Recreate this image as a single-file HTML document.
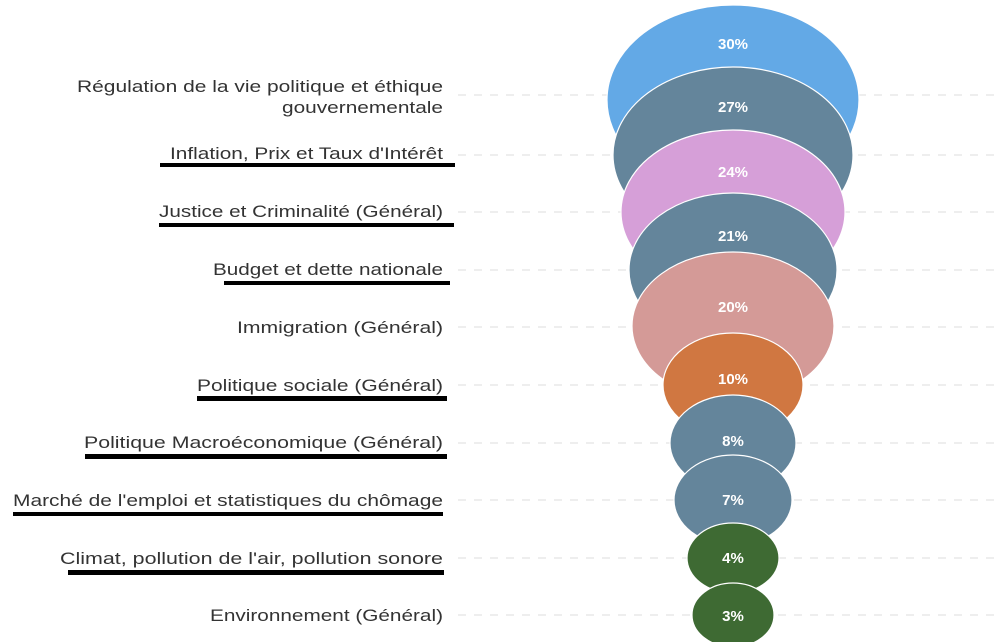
<!DOCTYPE html>
<html><head><meta charset="utf-8"><style>
html,body{margin:0;padding:0;background:#fff;}
svg{display:block;}
.l{font-family:"Liberation Sans",sans-serif;font-size:17px;fill:#333;}
.p{font-family:"Liberation Sans",sans-serif;font-size:15px;fill:#fff;font-weight:bold;text-anchor:middle;}
</style></head><body>
<svg width="996" height="642" viewBox="0 0 996 642" xmlns="http://www.w3.org/2000/svg">
<g stroke="#ddd" stroke-width="1" stroke-dasharray="8,8">
<line x1="458" y1="95" x2="996" y2="95"/>
<line x1="458" y1="155" x2="996" y2="155"/>
<line x1="458" y1="212" x2="996" y2="212"/>
<line x1="458" y1="270" x2="996" y2="270"/>
<line x1="458" y1="327" x2="996" y2="327"/>
<line x1="458" y1="385" x2="996" y2="385"/>
<line x1="458" y1="443" x2="996" y2="443"/>
<line x1="458" y1="500" x2="996" y2="500"/>
<line x1="458" y1="558" x2="996" y2="558"/>
<line x1="458" y1="615" x2="996" y2="615"/>
</g>
<g stroke="#fff" stroke-width="1.2">
<ellipse cx="733" cy="100" rx="126" ry="95" fill="#63a9e6"/>
<ellipse cx="733" cy="155" rx="120" ry="88" fill="#64859b"/>
<ellipse cx="733" cy="212" rx="112" ry="82" fill="#d69fd8"/>
<ellipse cx="733" cy="270" rx="104" ry="77" fill="#64859b"/>
<ellipse cx="733" cy="326" rx="101" ry="74" fill="#d49a97"/>
<ellipse cx="733" cy="385" rx="70" ry="52" fill="#d07741"/>
<ellipse cx="733" cy="443" rx="63" ry="48" fill="#64859b"/>
<ellipse cx="733" cy="500" rx="59" ry="45" fill="#64859b"/>
<ellipse cx="733" cy="558" rx="46" ry="35" fill="#3e6a33"/>
<ellipse cx="733" cy="615" rx="41" ry="32" fill="#3e6a33"/>
</g>
<text class="p" x="733" y="49">30%</text>
<text class="p" x="733" y="112">27%</text>
<text class="p" x="733" y="177">24%</text>
<text class="p" x="733" y="241">21%</text>
<text class="p" x="733" y="312">20%</text>
<text class="p" x="733" y="384">10%</text>
<text class="p" x="733" y="446">8%</text>
<text class="p" x="733" y="505">7%</text>
<text class="p" x="733" y="563">4%</text>
<text class="p" x="733" y="621">3%</text>
<g class="l">
<text class="l" x="77" y="92" textLength="366" lengthAdjust="spacingAndGlyphs">Régulation de la vie politique et éthique</text>
<text class="l" x="282" y="113" textLength="161" lengthAdjust="spacingAndGlyphs">gouvernementale</text>
<text class="l" x="170" y="159" textLength="273" lengthAdjust="spacingAndGlyphs">Inflation, Prix et Taux d'Intérêt</text>
<text class="l" x="159" y="217" textLength="284" lengthAdjust="spacingAndGlyphs">Justice et Criminalité (Général)</text>
<text class="l" x="213" y="275" textLength="230" lengthAdjust="spacingAndGlyphs">Budget et dette nationale</text>
<text class="l" x="237" y="333" textLength="206" lengthAdjust="spacingAndGlyphs">Immigration (Général)</text>
<text class="l" x="197" y="391" textLength="246" lengthAdjust="spacingAndGlyphs">Politique sociale (Général)</text>
<text class="l" x="84" y="448" textLength="359" lengthAdjust="spacingAndGlyphs">Politique Macroéconomique (Général)</text>
<text class="l" x="13" y="506" textLength="430" lengthAdjust="spacingAndGlyphs">Marché de l'emploi et statistiques du chômage</text>
<text class="l" x="60" y="564" textLength="383" lengthAdjust="spacingAndGlyphs">Climat, pollution de l'air, pollution sonore</text>
<text class="l" x="210" y="621" textLength="233" lengthAdjust="spacingAndGlyphs">Environnement (Général)</text>
</g>
<g fill="#000">
<rect x="160" y="163" width="295" height="4"/>
<rect x="159" y="223" width="295" height="4"/>
<rect x="224" y="281" width="226" height="4"/>
<rect x="197" y="396" width="250" height="5"/>
<rect x="85" y="454" width="362" height="5"/>
<rect x="13" y="512" width="430" height="4"/>
<rect x="68" y="570" width="376" height="5"/>
</g>
</svg>
</body></html>
